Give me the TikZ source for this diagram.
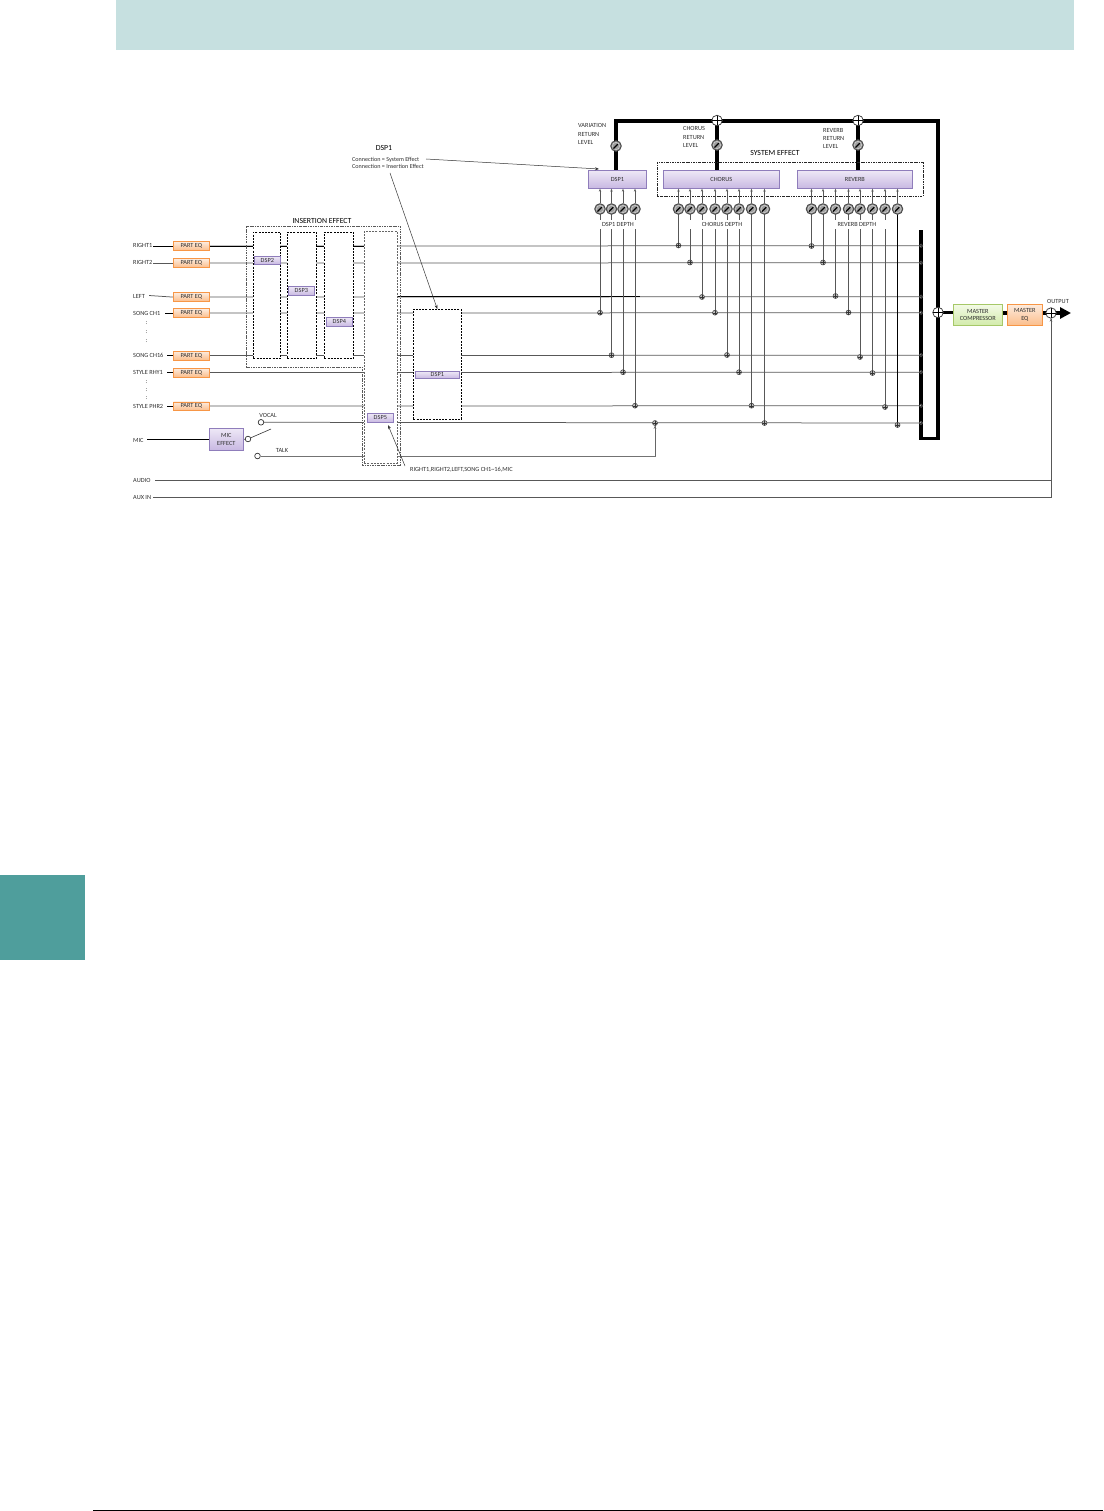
\documentclass[tikz,border=0pt]{standalone}
\usepackage{fontspec}
\setmainfont{Carlito}
\usetikzlibrary{arrows.meta,calc}
\pgfdeclarelayer{bg}
\pgfsetlayers{bg,main}
\definecolor{hdr}{HTML}{C6E0E0}
\definecolor{tabc}{HTML}{4F9E9C}
\definecolor{linec}{HTML}{585858}
\definecolor{txt}{HTML}{2E2E2E}
\definecolor{dsptop}{HTML}{EEE8F6}
\definecolor{dspbot}{HTML}{C8B8E2}
\definecolor{dspline}{HTML}{8F7DBB}
\definecolor{eqtop}{HTML}{FDEBDD}
\definecolor{eqbot}{HTML}{FBBE8C}
\definecolor{eqline}{HTML}{F79646}
\definecolor{comptop}{HTML}{F3FAE6}
\definecolor{compbot}{HTML}{D2EBAA}
\definecolor{compline}{HTML}{A6C868}
\tikzset{
  x=1pt,y=-1pt,
  lbl/.style={inner sep=0pt,font=\fontsize{6.3}{7.2}\selectfont,text=txt,align=center,yshift=-.5pt},
  lbll/.style={lbl,anchor=west,align=left},
  title/.style={inner sep=0pt,font=\fontsize{7.8}{9}\selectfont,text=black},
  block/.style={rectangle,inner sep=0pt,font=\fontsize{6.3}{7.4}\selectfont,text=txt,align=center,anchor=north west},
  dspblock/.style={block,draw=dspline,line width=.7pt,top color=dsptop,bottom color=dspbot},
  eqblock/.style={block,draw=eqline,line width=.7pt,top color=eqtop,bottom color=eqbot},
  compblock/.style={block,draw=compline,line width=.7pt,top color=comptop,bottom color=compbot},
  dashbox/.style={rectangle,inner sep=0pt,anchor=north west,draw=black,dash pattern=on 2pt off 1.2pt,line width=.6pt,fill=white},
  dashgray/.style={dashbox,draw=black!60,line width=.5pt},
  outerbox/.style={draw=black!65,line width=.5pt,dash pattern=on 2.5pt off 1pt on .8pt off 1pt},
  sysbox/.style={draw=black!85,line width=.55pt,dash pattern=on 2.5pt off 1pt on .8pt off 1pt},
  row/.style={draw=linec,line width=.75pt},
  blackrow/.style={draw=black,line width=.85pt},
  thick bus/.style={draw=black,line width=3.2pt,line cap=butt},
  ann/.style={draw=black!80,line width=.5pt,-{Stealth[length=4pt,width=3pt]}},
  upper/.style={draw=linec,line width=.75pt,-{Stealth[length=3pt,width=2.4pt]}},
  knob/.style={circle,minimum size=10.5pt,inner sep=0pt,draw=black!70,line width=1pt,fill=black!38,
    path picture={\draw[black!15,line width=.4pt] (path picture bounding box.center) circle (3.6pt);
      \draw[black,line width=1.2pt] ($(path picture bounding box.center)+(-2.6pt,-2.6pt)$) -- ($(path picture bounding box.center)+(1.8pt,1.8pt)$);}},
  junc/.style={circle,minimum size=5pt,inner sep=0pt,draw=black!75,line width=.55pt,fill=black!25,
    path picture={\draw[black!80,line width=.4pt] (path picture bounding box.west)--(path picture bounding box.east) (path picture bounding box.north)--(path picture bounding box.south);}},
  summer/.style={circle,minimum size=10.5pt,inner sep=0pt,draw=black!80,line width=.7pt,fill=white,
    path picture={\draw[black,line width=.7pt] (path picture bounding box.west)--(path picture bounding box.east) (path picture bounding box.north)--(path picture bounding box.south);}},
  term/.style={circle,minimum size=5.6pt,inner sep=0pt,draw=black!80,line width=.7pt,fill=white},
  depth/.style={lbl,fill=white,minimum height=9pt},
}
\begin{document}
\begin{tikzpicture}
\useasboundingbox (0,0) rectangle (1103,1511);
% page furniture
\fill[hdr] (116,0) rectangle (1074,50);
\fill[tabc] (0,875) rectangle (85,960);
\draw[black,line width=.8pt] (93,1510.5) -- (1103,1510.5);

% DSP boxes (white, hide the rows that run behind them)
\node[dashbox,minimum width=27pt,minimum height=126pt] (boxA) at (253,232) {};
\node[dashbox,minimum width=29pt,minimum height=126pt] (boxB) at (287,232) {};
\node[dashbox,minimum width=29pt,minimum height=126pt] (boxC) at (324,232) {};
\node[dashgray,minimum width=33pt,minimum height=232pt] (boxD) at (364,231) {};
\node[dashbox,minimum width=48pt,minimum height=110pt] (boxE) at (413,309) {};
% insertion effect outline
\draw[outerbox] (246,226) -- (400,226) -- (400,465) -- (362,465) -- (362,367) -- (246,367) -- cycle;
\node[title] (tIns) at (322,221) {INSERTION EFFECT};
% system effect outline
\draw[sysbox] (657,162) rectangle (923,196);
\node[title] (tSys) at (775,153) {SYSTEM EFFECT};

% row labels
\node[lbll] (lR1) at (133,245) {RIGHT1};
\node[lbll] (lR2) at (133,262) {RIGHT2};
\node[lbll] (lL) at (133,296) {LEFT};
\node[lbll] (lS1) at (133,313) {SONG CH1};
\node[lbll] (lS16) at (133,355) {SONG CH16};
\node[lbll] (lSR) at (133,372) {STYLE RHY1};
\node[lbll] (lSP) at (133,405.5) {STYLE PHR2};
\node[lbll] (lMic) at (133,439.5) {MIC};
\node[lbll] (lAu) at (133,480) {AUDIO};
\node[lbll] (lAx) at (133,497) {AUX IN};
\foreach \yy/\n in {323/a,332/b,341/c,382/d,390/e,398/f}{\node[lbl] (dots\n) at (146.5,\yy) {:};}

% part EQ
\foreach \n/\yy in {1/241.5,2/258.5,3/292.5,4/308.5,5/351,6/368,7/401.5}{
  \node[eqblock,minimum width=36pt,minimum height=8.5pt] (eq\n) at (173,\yy) {PART EQ};
}

% bus junctions
\foreach \n/\yy in {1/245.7,2/262.7,3/296.7,4/312.7,5/355.2,6/372.2,7/405.7,8/423}{
  \node[junc,minimum size=3.6pt] (b\n) at (921,\yy) {};
}

% effect blocks
\node[dspblock,minimum width=26pt,minimum height=8pt] (dsp2) at (254,256) {DSP2};
\node[dspblock,minimum width=26pt,minimum height=9pt] (dsp3) at (288,286) {DSP3};
\node[dspblock,minimum width=26pt,minimum height=9pt] (dsp4) at (326,317) {DSP4};
\node[dspblock,minimum width=26pt,minimum height=9pt] (dsp5) at (367,413) {DSP5};
\node[dspblock,minimum width=44pt,minimum height=7pt] (dsp1b) at (415,371) {DSP1};
\node[dspblock,minimum width=58pt,minimum height=18pt] (dsp1) at (588,170) {DSP1};
\node[dspblock,minimum width=116pt,minimum height=18pt] (chorus) at (663,170) {CHORUS};
\node[dspblock,minimum width=115pt,minimum height=18pt] (reverb) at (797,170) {REVERB};
\node[dspblock,minimum width=34pt,minimum height=22pt] (mice) at (209,428) {MIC\\EFFECT};
\node[compblock,minimum width=49pt,minimum height=21pt] (comp) at (953,304) {MASTER\\COMPRESSOR};
\node[eqblock,minimum width=35pt,minimum height=21pt] (meq) at (1007,304) {MASTER\\EQ};

% return level
\node[knob] (kv) at (616,146) {};
\node[knob] (kch) at (717,145) {};
\node[knob] (krv) at (858,145) {};
\node[summer] (sch) at (717,120.5) {};
\node[summer] (srv) at (858,120.5) {};
\node[summer] (smain) at (938,312.5) {};
\node[summer] (sout) at (1051,313) {};
\node[lbll] (tv) at (578,133.5) {VARIATION\\[1.2pt]RETURN\\[1.2pt]LEVEL};
\node[lbll] (tc) at (683,136.7) {CHORUS\\[1.2pt]RETURN\\[1.2pt]LEVEL};
\node[lbll] (tr) at (823,138) {REVERB\\[1.2pt]RETURN\\[1.2pt]LEVEL};

% send knobs and junctions
\foreach \n/\xx/\yy in {1/600/312.7,2/611.5/355.2,3/623/372.2,4/635/405.7}{
  \node[knob] (kd\n) at (\xx,209) {};
  \node[junc] (jd\n) at (\xx,\yy) {};
}
\foreach \n/\xx/\yy in {1/678.5/245.5,2/690/262.5,3/702/297,4/715/312.7,5/727/355,6/739/372.2,7/751.5/405.7,8/764.5/423}{
  \node[knob] (kc\n) at (\xx,209) {};
  \node[junc] (jc\n) at (\xx,\yy) {};
}
\foreach \n/\xx/\yy in {1/811.5/246,2/823/262.5,3/835.5/296,4/848.5/312.5,5/860/357,6/872.5/373,7/885/407,8/897.5/425}{
  \node[knob] (kr\n) at (\xx,209) {};
  \node[junc] (jr\n) at (\xx,\yy) {};
}
\node[junc] (jt) at (655,423) {};
\node[depth,minimum width=45pt] (ld) at (618,224) {DSP1 DEPTH};
\node[depth,minimum width=61pt] (lc) at (714,224) {\hspace*{16pt}CHORUS DEPTH};
\node[depth,minimum width=58pt] (lr) at (859,224) {REVERB DEPTH\hspace*{4pt}};

% mic section
\node[term] (cmic) at (248,439) {};
\node[term] (cvoc) at (261,422.3) {};
\node[term] (ctalk) at (257.5,456) {};
\coordinate (swend) at (271,429);
\node[lbl] (tvoc) at (268,415) {VOCAL};
\node[lbl] (ttalk) at (282,450) {TALK};
\node[lbl] (tout) at (1058,301) {OUTPUT};
\coordinate (outtip) at (1071,313);
\coordinate (corner1) at (1051,480);
\coordinate (corner2) at (1051,497);

% annotations
\node[title] (tdsp) at (384,147.5) {DSP1};
\node[lbll,font=\fontsize{6.1}{7}\selectfont] (conn) at (352,162.5) {Connection = System Effect\\Connection = Insertion Effect};
\node[lbll] (src) at (410,469) {RIGHT1,RIGHT2,LEFT,SONG CH1\textasciitilde16,MIC};
\coordinate (annA) at (426,159);
\coordinate (annAe) at (599,169);
\coordinate (annB) at (390,173);
\coordinate (annC) at (405,466);
\coordinate (annCe) at (388,425);

\begin{pgfonlayer}{bg}
  % horizontal rows
  \foreach \n in {1,...,7}{\draw[row] (eq\n.east) -- (b\n.center);}
  \draw[row] (cvoc) -- (b8.center);
  \draw[blackrow] (eq1.east) -- (boxD.west |- eq1.east);
  \draw[blackrow] (boxD.east |- b3) -- (640,296.7);
  \draw[blackrow] (eq1.west -| 153,0) -- (eq1.west);
  \draw[row] (eq2.west -| 153,0) -- (eq2.west);
  \draw[row] ($(lL.east)+(4,-1)$) -- (eq3.west);
  \draw[blackrow,line width=.7pt] (eq4.west -| 165,0) -- (eq4.west);
  \draw[blackrow,line width=.7pt] (eq5.west -| 167,0) -- (eq5.west);
  \draw[blackrow,line width=.7pt] (eq6.west -| 167,0) -- (eq6.west);
  \draw[blackrow,line width=.7pt] (eq7.west -| 167,0) -- (eq7.west);
  \draw[blackrow] (mice.west -| 147,0) -- (mice.west);
  % verticals
  \foreach \n in {1,2,3,4}{\draw[row] (kd\n.center) -- (jd\n.center);}
  \foreach \n in {1,...,8}{\draw[row] (kc\n.center) -- (jc\n.center); \draw[row] (kr\n.center) -- (jr\n.center);}
  \draw[draw=black,line width=.8pt] (kr8.center) -- (jr8.center);
  % switch
  \draw[draw=black!80,line width=.6pt] (cmic.center) -- (swend);
  \draw[draw=black!75,line width=.6pt] (mice.east) -- (cmic);
  % talk
  \draw[draw=black!55,line width=.9pt] (ctalk) -| (jt.center);
  % audio inputs
  \draw[row] (corner1 -| 155,0) -- (corner1) -- (sout.south);
  \draw[row] (corner2 -| 153,0) -- (corner2) -- (sout.south);
  % thick bus
  \draw[thick bus] (dsp1.north -| kv) -- (616,121) -- (938,121) -- (938,438.5) -- (921,438.5) -- (921,230);
  \draw[thick bus] (kch |- chorus.north) -- (sch.center);
  \draw[thick bus] (krv |- reverb.north) -- (srv.center);
  \draw[thick bus] (smain.center) -- (comp.west |- smain);
  \draw[thick bus] (comp.east |- sout) -- (meq.west |- sout);
  \draw[thick bus] (meq.east |- sout) -- (sout.center);
  \draw[thick bus,-{Triangle[length=11pt,width=11pt]}] (sout.center) -- (outtip);
\end{pgfonlayer}

% arrows into blocks
\foreach \n in {1,2,3,4}{\draw[upper] (kd\n.north) -- (kd\n.north |- dsp1.south);}
\foreach \n in {1,...,8}{
  \draw[upper] (kc\n.north) -- (kc\n.north |- chorus.south);
  \draw[upper] (kr\n.north) -- (kr\n.north |- reverb.south);
}
\draw[draw=black!60,line width=.5pt,-{Stealth[length=3pt,width=2.6pt]}] (jt.center |- ctalk) -- (jt.south);
\draw[draw=linec,line width=.5pt,-{Stealth[length=3pt,width=2.6pt]}] (corner1 |- meq.south) -- (sout.south);
% annotation arrows
\draw[ann] (annA) -- (annAe);
\draw[ann] (annB) -- (boxE.north);
\draw[ann] (annC) -- (annCe);
\end{tikzpicture}
\end{document}
